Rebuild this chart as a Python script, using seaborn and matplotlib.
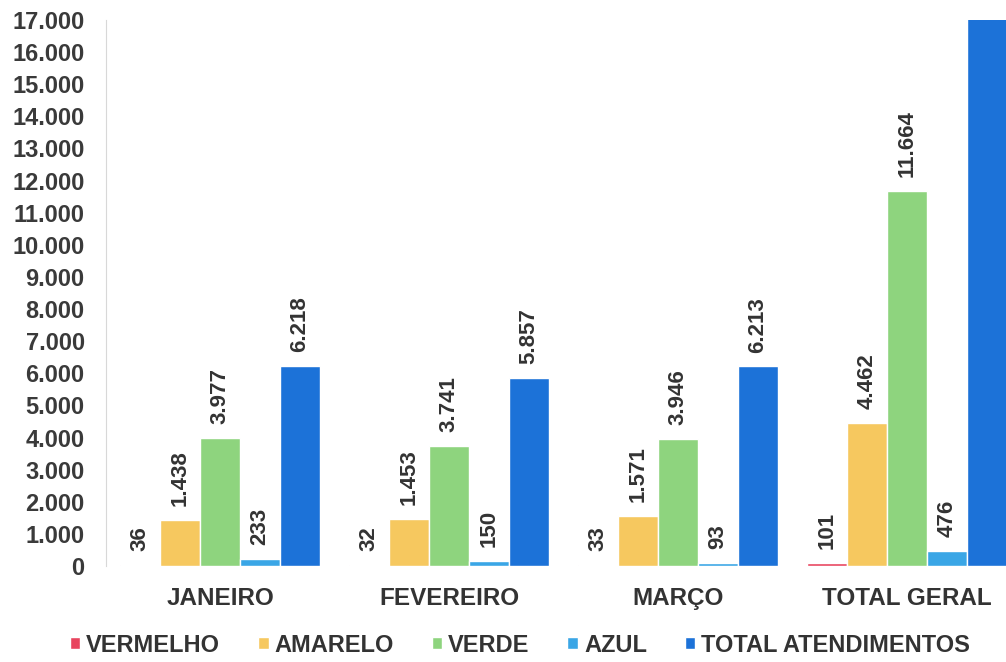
import pandas as pd
import matplotlib.pyplot as plt
import seaborn as sns
from matplotlib.ticker import FuncFormatter

meses = ['JANEIRO', 'FEVEREIRO', 'MARÇO', 'TOTAL GERAL']
series = ['VERMELHO', 'AMARELO', 'VERDE', 'AZUL', 'TOTAL ATENDIMENTOS']
vermelho = [36, 32, 33, 101]
amarelo = [1438, 1453, 1571, 4462]
verde = [3977, 3741, 3946, 11664]
azul = [233, 150, 93, 476]
total = [6218, 5857, 6213, 18288]
cores = ['#e8445e', '#f6c85f', '#8ed47e', '#3aa6e6', '#1c72d8']

valores = [vermelho, amarelo, verde, azul, total]
rows = []
for s, vals in zip(series, valores):
    for m, v in zip(meses, vals):
        rows.append({'mes': m, 'serie': s, 'valor': v})
df = pd.DataFrame(rows)

sns.set_style('white')
plt.rcParams['font.family'] = ['Liberation Sans', 'DejaVu Sans']
plt.rcParams['font.weight'] = 'bold'

fig = plt.figure(figsize=(10.06, 6.62), dpi=100)
ax = fig.add_axes([105.5 / 1006, 96 / 662, 916 / 1006, 546 / 662])

sns.barplot(data=df, x='mes', y='valor', hue='serie', order=meses,
            hue_order=series, palette=cores, width=0.87, saturation=1,
            ax=ax)

def fmt(v):
    return f'{int(v):,}'.replace(',', '.')

for cont, vals in zip(ax.containers, valores):
    labels = [fmt(v) if v < 17000 else '' for v in vals]
    ax.bar_label(cont, labels=labels, rotation=90, padding=10,
                 fontsize=16, fontweight='bold', color='#333333')

ax.set_ylim(0, 17000)
ax.set_xlim(-0.5, 3.5)
ax.set_yticks(range(0, 17001, 1000))
ax.yaxis.set_major_formatter(FuncFormatter(lambda v, p: fmt(v)))
ax.tick_params(axis='y', labelsize=17, colors='#3a3a3a', length=0, pad=15)
ax.tick_params(axis='x', labelsize=17.5, colors='#333333', length=0, pad=15)
for t in ax.get_xticklabels() + ax.get_yticklabels():
    t.set_fontweight('bold')
ax.set_xlabel('')
ax.set_ylabel('')
for s in ['top', 'right', 'bottom']:
    ax.spines[s].set_visible(False)
ax.spines['left'].set_color('#d8d8d8')

handles, labs = ax.get_legend_handles_labels()
ax.legend(handles, labs, loc='center', bbox_to_anchor=(520 / 1006, 17 / 662),
          bbox_transform=fig.transFigure, ncol=5, frameon=False,
          handlelength=0.45, handleheight=0.45, handletextpad=0.25,
          columnspacing=1.6, prop={'size': 17, 'weight': 'bold'},
          labelcolor='#333333')

fig.savefig('out.png', dpi=100)
